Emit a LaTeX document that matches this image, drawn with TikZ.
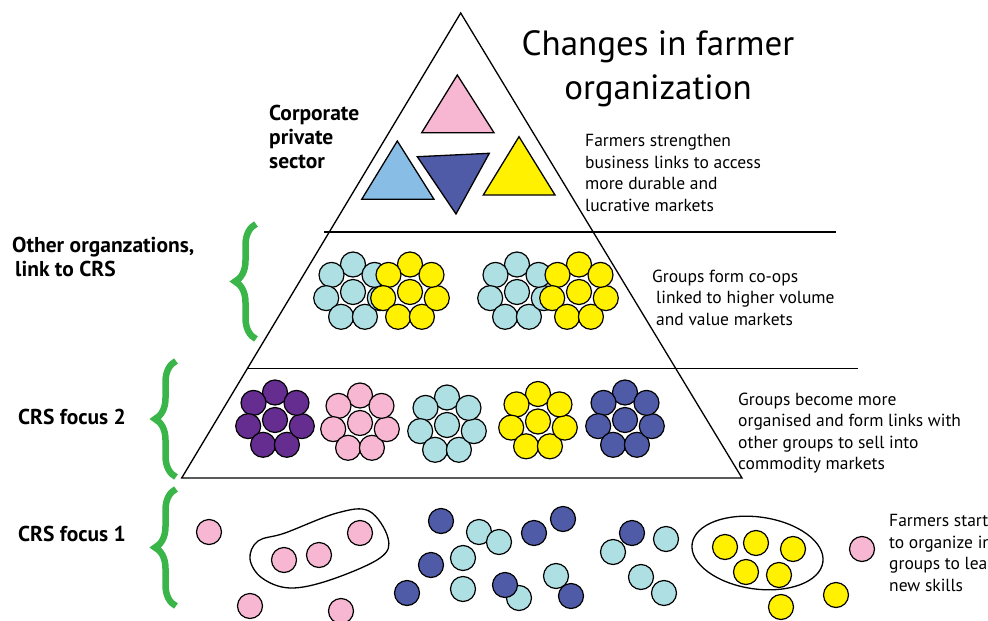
\documentclass[tikz,border=0pt]{standalone}
\usepackage{fontspec}
\setmainfont{PT Sans}
\usetikzlibrary{decorations.pathreplacing}
\definecolor{pinkfarmer}{RGB}{247,183,210}
\definecolor{cyanfarmer}{RGB}{173,223,227}
\definecolor{yellowfarmer}{RGB}{255,241,0}
\definecolor{bluefarmer}{RGB}{80,91,168}
\definecolor{purplefarmer}{RGB}{102,45,145}
\definecolor{skyfarmer}{RGB}{136,189,230}
\definecolor{bracegreen}{RGB}{58,181,74}
\tikzstyle{farmer}=[circle, draw, line width=1.2pt, minimum size=25pt, inner sep=0pt]
\tikzstyle{level}=[line width=1.3pt]
\tikzstyle{curly}=[draw=bracegreen, line width=6.5pt, decorate, decoration={brace, amplitude=21pt}]
\tikzstyle{blurb}=[anchor=north west, align=left, inner sep=0pt, font=\fontsize{17.5}{21.5}\selectfont]
\tikzstyle{sidetag}=[anchor=north west, align=left, inner sep=0pt, font=\fontsize{21.5}{24}\selectfont\bfseries]
\tikzstyle{company}=[line width=1.3pt]
%% a group of eight farmers: ring of seven round a middle one
\newcommand{\flower}[4]{%
  \draw (#2,#3-27.5) node[farmer,fill=#4] (#1a) {};
  \draw (#2-21.5,#3-17.1) node[farmer,fill=#4] (#1b) {};
  \draw (#2-26.8,#3+6.1) node[farmer,fill=#4] (#1c) {};
  \draw (#2-11.9,#3+24.8) node[farmer,fill=#4] (#1d) {};
  \draw (#2+11.9,#3+24.8) node[farmer,fill=#4] (#1e) {};
  \draw (#2+26.8,#3+6.1) node[farmer,fill=#4] (#1f) {};
  \draw (#2+21.5,#3-17.1) node[farmer,fill=#4] (#1g) {};
  \draw (#2,#3) node[farmer,fill=#4] (#1m) {};
}

\begin{document}
\begin{tikzpicture}[x=1pt,y=-1pt]
  \useasboundingbox (0,0) rectangle (988,621);

  %% Pyramid
  \draw[level] (460.7,13) -- (181.7,478) -- (742,478) -- cycle;
  \draw[level] (324,232) -- (836,232);
  \draw[level] (247,368.5) -- (858,368.5);

  %% Title
  \draw (658,30) node[anchor=north, align=center, inner sep=0pt, font=\fontsize{35}{44}\selectfont] (title) {Changes in farmer\\organization};

  %% Corporate private sector
  \filldraw[company, fill=pinkfarmer] (457.3,75) -- (421.7,132.7) -- (494,132.7) -- cycle;
  \filldraw[company, fill=skyfarmer] (397.3,141) -- (361.7,199.3) -- (434,199.3) -- cycle;
  \filldraw[company, fill=bluefarmer] (417.3,156.7) -- (489.3,153.3) -- (456,214) -- cycle;
  \filldraw[company, fill=yellowfarmer] (519,136.7) -- (483.3,195) -- (555,195) -- cycle;

  %% Co-ops
  \flower{LB}{353}{292}{cyanfarmer}
  \flower{LY}{410}{292}{yellowfarmer}
  \flower{RB}{517}{292}{cyanfarmer}
  \flower{RY}{579}{292}{yellowfarmer}

  %% Organised groups
  \flower{GP}{275}{420}{purplefarmer}
  \flower{GK}{360}{423}{pinkfarmer}
  \flower{GC}{447}{425}{cyanfarmer}
  \flower{GY}{538}{421.5}{yellowfarmer}
  \flower{GB}{625}{420}{bluefarmer}

  %% Single farmers
  \draw[level] plot[smooth cycle, tension=0.6] coordinates {(250,559) (258,541) (285,533) (337,513) (369,511) (388,538) (380,558) (330,580) (290,588) (262,578)};
  \draw[level, rotate around={-8:(757.5,553)}] (757.5,553) ellipse [x radius=66, y radius=36];

  \draw (209,532) node[farmer,fill=pinkfarmer] (P1) {};
  \draw (284,560) node[farmer,fill=pinkfarmer] (P2) {};
  \draw (319,555) node[farmer,fill=pinkfarmer] (P3) {};
  \draw (360,533) node[farmer,fill=pinkfarmer] (P4) {};
  \draw (250,606) node[farmer,fill=pinkfarmer] (P5) {};
  \draw (341,611) node[farmer,fill=pinkfarmer] (P6) {};
  \draw (862,549) node[farmer,fill=pinkfarmer] (P7) {};

  \draw (479,532) node[farmer,fill=cyanfarmer] (C1) {};
  \draw (499,542) node[farmer,fill=cyanfarmer] (C2) {};
  \draw (463,558) node[farmer,fill=cyanfarmer] (C3) {};
  \draw (463,589) node[farmer,fill=cyanfarmer] (C4) {};
  \draw (519,598) node[farmer,fill=cyanfarmer] (C5) {};
  \draw (556,576) node[farmer,fill=cyanfarmer] (C6) {};
  \draw (666,539) node[farmer,fill=cyanfarmer] (C8) {};
  \draw (641,577) node[farmer,fill=cyanfarmer] (C9) {};
  \draw (664,593) node[farmer,fill=cyanfarmer] (C10) {};

  \draw (441,521) node[farmer,fill=bluefarmer] (D1) {};
  \draw (431,565) node[farmer,fill=bluefarmer] (D2) {};
  \draw (407,593) node[farmer,fill=bluefarmer] (D3) {};
  \draw (534,533) node[farmer,fill=bluefarmer] (D4) {};
  \draw (563,519) node[farmer,fill=bluefarmer] (D5) {};
  \draw (505,585) node[farmer,fill=bluefarmer] (D6) {};
  \draw (571,596) node[farmer,fill=bluefarmer] (D7) {};
  \draw (632,533) node[farmer,fill=bluefarmer] (D8) {};
  \draw (613,552) node[farmer,fill=cyanfarmer] (C7) {};

  \draw (725,547) node[farmer,fill=yellowfarmer] (Y1) {};
  \draw (756,543) node[farmer,fill=yellowfarmer] (Y2) {};
  \draw (793,549) node[farmer,fill=yellowfarmer] (Y3) {};
  \draw (746,572) node[farmer,fill=yellowfarmer] (Y4) {};
  \draw (779,575) node[farmer,fill=yellowfarmer] (Y5) {};
  \draw (836,595) node[farmer,fill=yellowfarmer] (Y6) {};
  \draw (781,607) node[farmer,fill=yellowfarmer] (Y7) {};

  %% Braces
  \draw[curly] (256,339) -- (256,224);
  \draw[curly] (176,477) -- (176,361);
  \draw[curly] (176,606) -- (176,489);

  %% Side tags
  \draw (269,105) node[sidetag] (corp) {Corporate\\private\\sector};
  \draw (12,236.5) node[sidetag] (other) {Other organzations,\\\hspace{3pt}link to CRS};
  \draw (18,409) node[sidetag] (focus2) {CRS focus 2};
  \draw (18,525.5) node[sidetag] (focus1) {CRS focus 1};

  %% What happens at each level
  \draw (585,134.5) node[blurb] (top) {Farmers strengthen\\business links to access\\more durable and\\lucrative markets};
  \draw (652,269.5) node[blurb] (coops) {Groups form co-ops\\\hspace{4pt}linked to higher volume\\\hspace{4pt}and value markets};
  \draw (738,392.5) node[blurb] (groups) {Groups become more\\organised and form links with\\other groups to sell into\\commodity markets};
  \draw (889,514.5) node[blurb] (start) {Farmers start\\to organize into\\groups to learn\\new skills};
\end{tikzpicture}
\end{document}
